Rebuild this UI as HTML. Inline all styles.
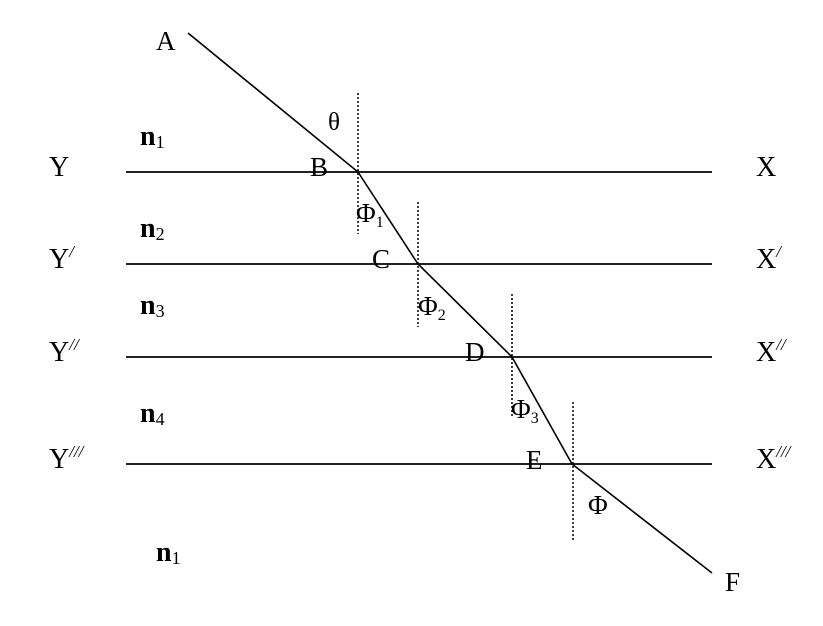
<!DOCTYPE html>
<html><head><meta charset="utf-8"><style>
html,body{margin:0;padding:0;background:#fff}
svg{display:block}
text{font-family:"Liberation Serif",serif;fill:#000}
</style></head><body>
<svg width="823" height="626" viewBox="0 0 823 626" xmlns="http://www.w3.org/2000/svg">
<g stroke="#222" stroke-width="2">
<line x1="126" y1="172" x2="712" y2="172"/>
<line x1="126" y1="264" x2="712" y2="264"/>
<line x1="126" y1="357" x2="712" y2="357"/>
<line x1="126" y1="464" x2="712" y2="464"/>
</g>
<polyline points="188,33 358,172 418,264 512,357 572,464 712,573" fill="none" stroke="#000" stroke-width="1.6"/>
<g stroke="#000" stroke-width="1.5" stroke-dasharray="2,2">
<line x1="358" y1="93" x2="358" y2="234"/>
<line x1="418" y1="202" x2="418" y2="327"/>
<line x1="512" y1="294" x2="512" y2="418"/>
<line x1="573" y1="402" x2="573" y2="542"/>
</g>
<g font-size="27">
<text x="156" y="50">A</text>
<text x="310" y="176">B</text>
<text x="372" y="268">C</text>
<text x="465" y="361">D</text>
<text x="526" y="469">E</text>
<text x="725" y="591">F</text>
</g>
<g font-size="25">
<text x="328" y="130">θ</text>
<text x="356" y="222" font-size="27">Φ<tspan font-size="16" dy="5">1</tspan></text>
<text x="418" y="315" font-size="27">Φ<tspan font-size="16" dy="5">2</tspan></text>
<text x="511" y="418" font-size="27">Φ<tspan font-size="16" dy="5">3</tspan></text>
<text x="588" y="514" font-size="27">Φ</text>
</g>
<g font-size="28">
<text x="49" y="176">Y</text>
<text x="49" y="268">Y<tspan font-size="17" font-style="italic" dy="-11">/</tspan></text>
<text x="49" y="361">Y<tspan font-size="17" font-style="italic" dy="-11">//</tspan></text>
<text x="49" y="468">Y<tspan font-size="17" font-style="italic" dy="-11">///</tspan></text>
<text x="756" y="176">X</text>
<text x="756" y="268">X<tspan font-size="17" font-style="italic" dy="-11">/</tspan></text>
<text x="756" y="361">X<tspan font-size="17" font-style="italic" dy="-11">//</tspan></text>
<text x="756" y="468">X<tspan font-size="17" font-style="italic" dy="-11">///</tspan></text>
</g>
<g font-size="28" font-weight="bold">
<text x="140" y="145">n<tspan font-size="18" font-weight="normal" dy="3">1</tspan></text>
<text x="140" y="237">n<tspan font-size="18" font-weight="normal" dy="3">2</tspan></text>
<text x="140" y="314">n<tspan font-size="18" font-weight="normal" dy="3">3</tspan></text>
<text x="140" y="422">n<tspan font-size="18" font-weight="normal" dy="3">4</tspan></text>
<text x="156" y="561">n<tspan font-size="18" font-weight="normal" dy="3">1</tspan></text>
</g>
</svg>
</body></html>
